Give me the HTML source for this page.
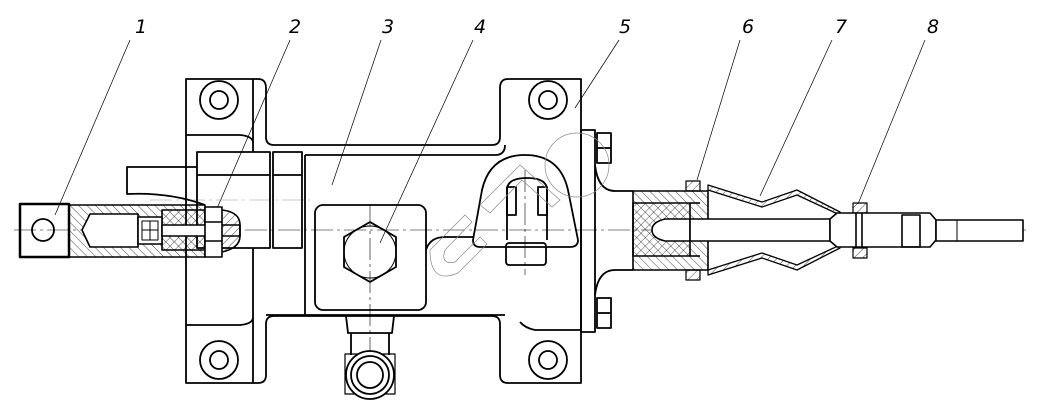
<!DOCTYPE html>
<html><head><meta charset="utf-8"><style>
html,body{margin:0;padding:0;background:#fff}
svg{display:block}
text{font-family:"DejaVu Sans","Liberation Sans",sans-serif;font-style:italic;font-size:19px;fill:#000}
</style></head><body>
<svg width="1040" height="413" viewBox="0 0 1040 413" xmlns="http://www.w3.org/2000/svg">
<defs>
<pattern id="h1" width="6" height="6" patternUnits="userSpaceOnUse" patternTransform="rotate(45)"><line x1="0" y1="0" x2="0" y2="6" stroke="#000" stroke-width="0.7"/></pattern>
<pattern id="h2" width="6" height="6" patternUnits="userSpaceOnUse" patternTransform="rotate(-45)"><line x1="0" y1="0" x2="0" y2="6" stroke="#000" stroke-width="0.7"/></pattern>
</defs>
<g fill="none" stroke="#000" stroke-width="0.7">
<line x1="130" y1="40" x2="55" y2="215"/>
<line x1="290" y1="40" x2="215" y2="213"/>
<line x1="381" y1="40" x2="332" y2="185"/>
<line x1="473" y1="40" x2="380" y2="243"/>
<line x1="619" y1="40" x2="575" y2="108"/>
<line x1="740" y1="40" x2="697" y2="180"/>
<line x1="832" y1="40" x2="760" y2="196"/>
<line x1="925" y1="40" x2="858" y2="204"/>
</g>
<g>
<text x="135" y="33">1</text><text x="289" y="33">2</text><text x="382" y="33">3</text><text x="474" y="33">4</text><text x="619" y="33">5</text><text x="742" y="33">6</text><text x="835" y="33">7</text><text x="927" y="33">8</text>
</g>
<g stroke="#000" stroke-width="0.6" fill="none" stroke-dasharray="22,4,3,4">
<line x1="14" y1="230" x2="1030" y2="230"/>
<line x1="370" y1="205" x2="370" y2="395"/>
<line x1="525" y1="170" x2="525" y2="275"/>
<line x1="150" y1="200" x2="310" y2="200" stroke="#999"/>
</g>
<g fill="none" stroke="#000" stroke-width="1.8" stroke-linejoin="round">
<path d="M186 79 H258 Q266 79 266 88 V137 Q266 145 274 145 H492 Q500 145 500 137 V88 Q500 79 508 79 H581 V383 H508 Q500 383 500 375 V324 Q500 316 492 316 H274 Q266 316 266 324 V375 Q266 383 258 383 H186 Z"/>
<line x1="253" y1="79" x2="253" y2="152"/>
<line x1="253" y1="248" x2="253" y2="383"/>
<path d="M186 135 H240 Q252 136 253 142"/>
<path d="M186 325 H240 Q252 324 253 318"/>
<path d="M305 155 H495 Q505 155 505 145"/>
<line x1="305" y1="155" x2="305" y2="315"/>
<path d="M266 315 H505"/>
<path d="M520 322 Q525 328 535 330 H581"/>
<rect x="197" y="152" width="73" height="96"/>
<line x1="197" y1="175" x2="270" y2="175"/>
<rect x="273" y="152" width="29" height="96"/>
<line x1="273" y1="175" x2="302" y2="175"/>
<path d="M197 167 H127 V194 Q170 192 205 205"/>
<rect x="315" y="205" width="111" height="105" rx="8"/>
<path d="M426 250 Q430 237 445 237 H473"/>
<polygon points="370,222 396,237 396,267 370,282 344,267 344,237"/>
<circle cx="370" cy="252" r="26" stroke-width="1"/>
<path d="M346 316 L348 333 H392 L394 316"/>
<path d="M351 333 V355 M389 333 V355"/>
<rect x="345" y="354" width="50" height="40" stroke-width="1.2"/>
<circle cx="370" cy="375" r="24" fill="#fff"/>
<circle cx="370" cy="375" r="19"/>
<circle cx="370" cy="375" r="13"/>
<circle cx="219" cy="100" r="19"/><circle cx="219" cy="100" r="9"/>
<circle cx="548" cy="100" r="19"/><circle cx="548" cy="100" r="9"/>
<circle cx="219" cy="360" r="19"/><circle cx="219" cy="360" r="9"/>
<circle cx="548" cy="360" r="19"/><circle cx="548" cy="360" r="9"/>
<path d="M473 240 L482 190 Q490 155 525 155 Q560 155 568 190 L578 240 Q578 247 570 247 H480 Q473 247 473 240"/>
<path d="M507 240 V190 Q507 178 527 178 Q547 178 547 190 V240"/>
<rect x="507" y="187" width="9" height="28"/><rect x="538" y="187" width="9" height="28"/>
<rect x="506" y="243" width="40" height="22" rx="3"/>
<rect x="581" y="130" width="14" height="202"/>
<rect x="597" y="133" width="14" height="30"/><line x1="597" y1="148" x2="611" y2="148"/>
<rect x="597" y="298" width="14" height="30"/><line x1="597" y1="313" x2="611" y2="313"/>
<path d="M595 165 Q598 191 615 191 H633"/>
<path d="M595 295 Q598 270 615 270 H633"/>
<rect x="20" y="204" width="49" height="53" stroke-width="2.5"/>
<circle cx="43" cy="230" r="11"/>
</g>
<g stroke="#000" stroke-width="1.6" stroke-linejoin="round">
<path d="M69 205 H205 V257 H69 Z" fill="url(#h2)"/>
<path d="M90 214 H138 V247 H90 L82 230 Z" fill="#fff"/>
<path d="M162 210 H205 V250 H162 Z" fill="url(#h1)"/>
<rect x="138" y="217" width="24" height="27" fill="#fff"/>
<path d="M142 221 H158 V240 H142 Z M150 221 V240 M142 230 H158" fill="none" stroke-width="1"/>
<rect x="162" y="225" width="78" height="11" fill="#fff"/>
<rect x="205" y="207" width="17" height="50" fill="#fff"/>
<line x1="205" y1="222" x2="222" y2="222"/><line x1="205" y1="241" x2="222" y2="241"/>
<path d="M222 210 Q240 212 240 225 V236 Q240 248 222 252" fill="url(#h1)"/>
<path d="M633 191 H708 V270 H633 Z" fill="url(#h2)"/>
<path d="M633 203 H690 V256 H633 Z" fill="url(#h1)"/>
<path d="M690 219 H665 Q652 222 652 230 Q652 238 665 241 H690 Z" fill="#fff"/>
<line x1="690" y1="203" x2="700" y2="203" /><line x1="690" y1="256" x2="700" y2="256"/>
<rect x="690" y="219" width="140" height="22" fill="#fff"/>
<path d="M708 185 L762 202 L797 190 L840 212 L840 215 L797 195 L762 207 L708 190 Z" fill="url(#h1)" stroke-width="1.3"/>
<path d="M708 275 L762 258 L797 270 L840 248 L840 245 L797 265 L762 253 L708 270 Z" fill="url(#h1)" stroke-width="1.3"/>
<rect x="686" y="181" width="14" height="10" fill="url(#h1)" stroke-width="1.2"/>
<rect x="686" y="270" width="14" height="10" fill="url(#h1)" stroke-width="1.2"/>
<rect x="853" y="203" width="14" height="10" fill="url(#h1)" stroke-width="1.2"/>
<rect x="853" y="248" width="14" height="10" fill="url(#h1)" stroke-width="1.2"/>
<path d="M830 219 L837 213 H930 L936 220 V240 L930 247 H837 L830 241 Z" fill="#fff"/>
<line x1="856" y1="213" x2="856" y2="247"/><line x1="862" y1="213" x2="862" y2="247"/>
<rect x="902" y="215" width="18" height="32" fill="none"/>
<rect x="936" y="220" width="87" height="21" fill="#fff"/>
<line x1="957" y1="220" x2="957" y2="241" stroke-width="1"/>
</g>
<g fill="none" stroke="#888" stroke-width="0.7">
<path d="M430 250 L465 215 L472 222 L445 250 Q440 265 455 262 L480 237 L487 244 L458 273 Q430 285 430 250 Z"/>
<path d="M480 205 L520 165 L560 200 L552 207 L522 180 L490 213 Z"/>
<circle cx="577" cy="165" r="32"/>
</g>
</svg>
</body></html>
